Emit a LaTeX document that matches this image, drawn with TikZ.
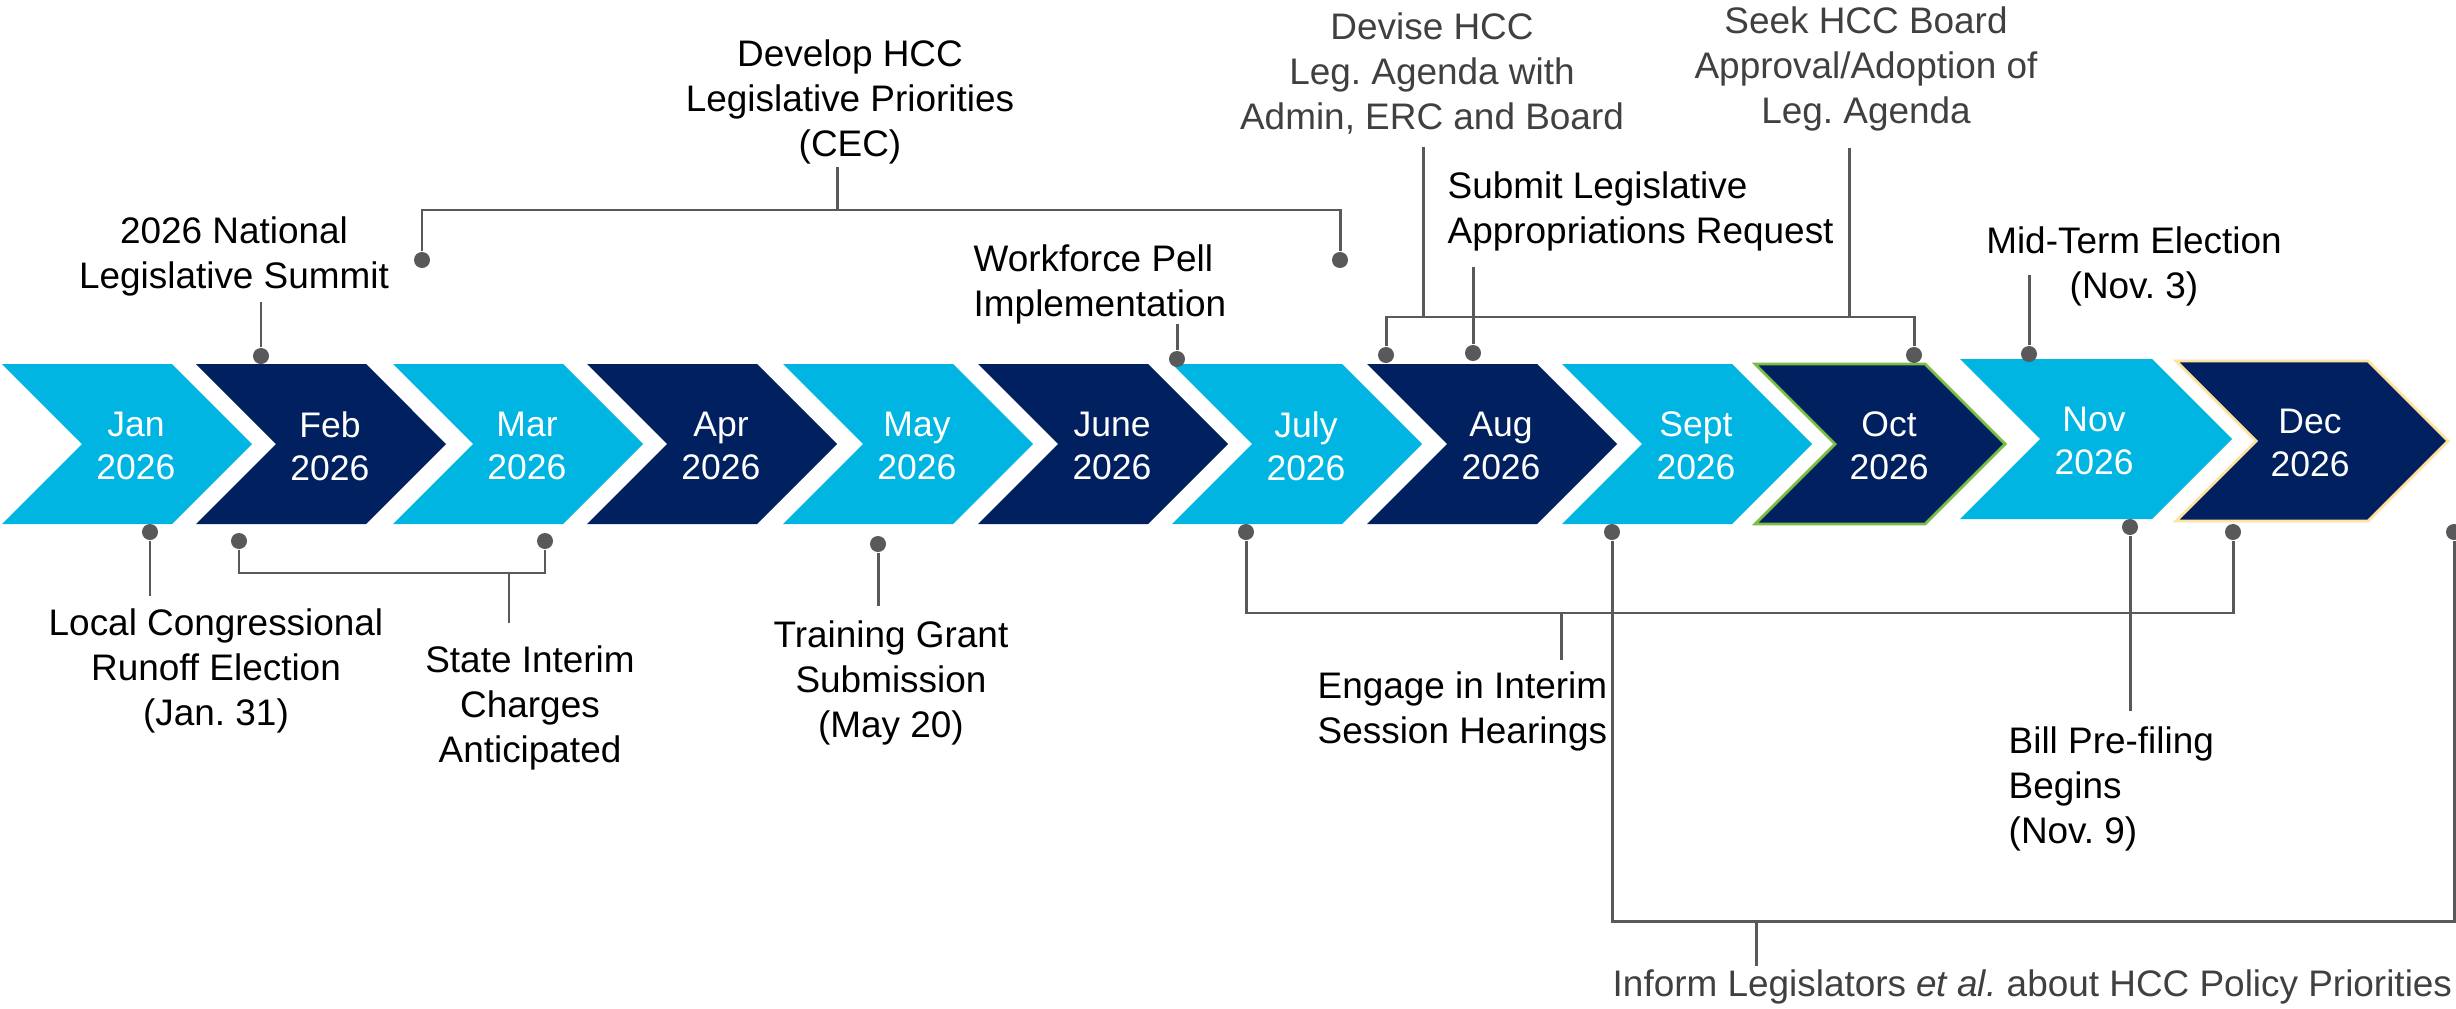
\documentclass[tikz,border=0pt]{standalone}
\usepackage{fontspec}
\setmainfont{Liberation Sans}
\usepackage{tikz}
\frenchspacing

\definecolor{sky}{RGB}{0,181,226}
\definecolor{navy}{RGB}{0,32,96}
\definecolor{pin}{RGB}{89,89,91}
\definecolor{softgray}{RGB}{64,64,64}
\definecolor{octline}{RGB}{122,190,72}
\definecolor{decline}{RGB}{255,226,160}

\begin{document}
\begin{tikzpicture}
  [x=0.01cm,y=-0.01cm,
   month/.style={text=white,align=center,inner sep=0pt,font=\fontsize{10.1}{12.2}\selectfont},
   event/.style={text=black,align=center,inner sep=0pt,font=\fontsize{10.5}{12.8}\selectfont},
   muted/.style={event,text=softgray},
   dot/.style={circle,fill=pin,inner sep=0pt,minimum size=0.16cm},
   link/.style={draw=pin,line width=0.85pt}]
  \useasboundingbox (0,0) rectangle (2456,1009);

  % month chevrons
  \foreach \x/\yy/\w/\col/\rim/\mname/\txt in {
      2/364/170/sky/none/jan/Jan, 196/364/170/navy/none/feb/Feb,
      393/364/170/sky/none/mar/Mar, 587/364/170/navy/none/apr/Apr,
      783/364/170/sky/none/may/May, 978/364/170/navy/none/jun/June,
      1172/364/170/sky/none/jul/July, 1367/364/170/navy/none/aug/Aug,
      1562/364/170/sky/none/sep/Sept, 1755/364/170/navy/octline/oct/Oct,
      1960/359/192/sky/none/nov/Nov, 2176/361/192/navy/decline/dec/Dec}
  {
    \filldraw[fill=\col,draw=\rim,line width=0.8pt]
      (\x,\yy) -- ++(\w,0) -- ++(80,80) -- ++(-80,80) -- ++(-\w,0) -- ++(80,-80) -- cycle;
    \node[month] (\mname) at (\x+134,\yy+82) {\txt\\2026};
  }

  % pins
  \node[dot] (psummit) at (261,356) {};
  \node[dot] (pdevA) at (422,260) {};
  \node[dot] (pdevB) at (1340,260) {};
  \node[dot] (ppell) at (1177,359) {};
  \node[dot] (paggA) at (1386,355) {};
  \node[dot] (psubmit) at (1473,353) {};
  \node[dot] (paggB) at (1914,355) {};
  \node[dot] (pmid) at (2029,354) {};
  \node[dot] (prunoff) at (150,532) {};
  \node[dot] (pintA) at (239,541) {};
  \node[dot] (pintB) at (545,541) {};
  \node[dot] (pgrant) at (878,544) {};
  \node[dot] (phearA) at (1246,532) {};
  \node[dot] (pinfA) at (1612,532) {};
  \node[dot] (pbill) at (2130,527) {};
  \node[dot] (phearB) at (2233,532) {};
  \node[dot] (pinfB) at (2454,532) {};

  % labels
  \node[event,outer ysep=1.7pt] (summit) at (234,256) {2026 National\\Legislative Summit};
  \node[event,outer ysep=0.9pt] (develop) at (850,102) {Develop HCC\\Legislative Priorities\\(CEC)};
  \node[event,align=left,anchor=west] (pell) at (973,284) {Workforce Pell\\Implementation};
  \node[muted,outer ysep=3.7pt] (devise) at (1432,73) {Devise HCC\\Leg. Agenda with\\Admin, ERC and Board};
  \node[muted,outer ysep=4.8pt] (seek) at (1866,69) {Seek HCC Board\\Approval/Adoption of\\Leg. Agenda};
  \node[event,align=left,anchor=west,outer ysep=4.5pt] (submit) at (1447,211) {Submit Legislative\\Appropriations Request};
  \node[event] (midterm) at (2134,266) {Mid-Term Election\\(Nov. 3)};
  \node[event,outer ysep=3.7pt] (runoff) at (216,671) {Local Congressional\\Runoff Election\\(Jan. 31)};
  \node[event,outer ysep=6.5pt] (interim) at (530,708) {State Interim\\Charges\\Anticipated};
  \node[event,outer ysep=4.3pt] (grant) at (891,683) {Training Grant\\Submission\\(May 20)};
  \node[event,align=left,anchor=west,outer ysep=3.1pt] (hearings) at (1317,711) {Engage in Interim\\Session Hearings};
  \node[event,align=left,anchor=west,outer ysep=4.6pt] (bill) at (2008,789) {Bill Pre-filing\\Begins\\(Nov. 9)};
  \node[muted,anchor=west,outer ysep=1.1pt] (inform) at (1612,987) {Inform Legislators \textit{et al.} about HCC Policy Priorities};

  % connectors
  \coordinate (devbar) at (837,210);
  \coordinate (devfoot) at (1423,317);
  \coordinate (seekfoot) at (1849,317);
  \coordinate (midtop) at (2029,275);
  \coordinate (intbar) at (509,573);
  \coordinate (hearbar) at (1561,613);
  \coordinate (infbar) at (1756,921);

  \draw[link] (psummit) -- (psummit |- summit.south);
  \draw[link] (pdevA) |- (devbar) -| (pdevB);
  \draw[link] (devbar) -- (devbar |- develop.south);
  \draw[link] (ppell) -- (ppell |- pell.south);
  \draw[link] (paggA) |- (devfoot) -| (paggB);
  \draw[link] (devfoot) -- (devfoot |- devise.south);
  \draw[link] (seekfoot) -- (seekfoot |- seek.south);
  \draw[link] (psubmit) -- (psubmit |- submit.south);
  \draw[link] (pmid) -- (midtop);
  \draw[link] (prunoff) -- (prunoff |- runoff.north);
  \draw[link] (pintA) |- (intbar) -| (pintB);
  \draw[link] (intbar) -- (intbar |- interim.north);
  \draw[link] (pgrant) -- (pgrant |- grant.north);
  \draw[link] (phearA) |- (hearbar) -| (phearB);
  \draw[link] (hearbar) -- (hearbar |- hearings.north);
  \draw[link] (pbill) -- (pbill |- bill.north);
  \draw[link] (pinfA) |- (infbar) -| (pinfB);
  \draw[link] (infbar) -- (infbar |- inform.north);

\end{tikzpicture}
\end{document}
